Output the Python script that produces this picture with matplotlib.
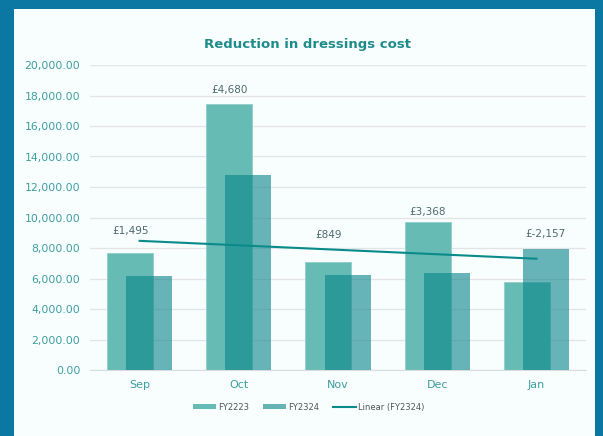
import numpy as np
import matplotlib.pyplot as plt
from matplotlib.patches import Patch
from matplotlib.lines import Line2D

# data
months = ["Sep", "Oct", "Nov", "Dec", "Jan"]
fy2223 = [7650, 17450, 7100, 9700, 5750]
fy2324 = [6155, 12770, 6251, 6332, 7907]
diff_labels = ["£1,495", "£4,680", "£849", "£3,368", "£-2,157"]
yticks = [0, 2000, 4000, 6000, 8000, 10000, 12000, 14000, 16000, 18000, 20000]

# label gap above the taller bar, in points
label_gap = [15.8, 10, 19.4, 7.6, 10.8]

border = "#0b77a3"
teal_text = "#3d9ea0"
c2223 = "#66bbb4"
c2324 = "#07848a"

fig = plt.figure(figsize=(6.03, 4.36), dpi=100)
fig.patch.set_facecolor(border)

# white panel as a background axes
bg = fig.add_axes([14/603, 0, (595-14)/603, 1 - 9/436])
bg.set_facecolor("#f8fdfd")
bg.set_xticks([])
bg.set_yticks([])
for s in bg.spines.values():
    s.set_visible(False)
bg.set_zorder(0)

ax = fig.add_axes([90/603, 66/436, 496/603, 305/436])
ax.set_facecolor("none")
ax.set_zorder(1)

x = np.arange(len(months))
w = 0.464
off = 0.096
ax.bar(x - off, fy2223, width=w, color=c2223, edgecolor="#8fd0ca", linewidth=0.6, zorder=2)
ax.bar(x + off, fy2324, width=w, color=c2324, alpha=0.6, edgecolor="none", zorder=3)

# linear trendline of FY2324
coef = np.polyfit(x, fy2324, 1)
ax.plot([x[0], x[-1]], np.polyval(coef, [x[0], x[-1]]), color="#0a8a8a", lw=1.5, zorder=4)

# difference labels above the taller bar
for i in range(len(months)):
    if fy2223[i] >= fy2324[i]:
        xi, top = x[i] - off, fy2223[i]
    else:
        xi, top = x[i] + off, fy2324[i]
    ax.annotate(diff_labels[i], (xi, top), xytext=(0, label_gap[i]), textcoords="offset points",
                ha="center", va="center", fontsize=7.5, color="#4f6a70")

ax.set_xlim(-0.5, len(months) - 0.5)
ax.set_ylim(0, 20000)
ax.set_yticks(yticks)
ax.set_yticklabels([f"{v:,.2f}" for v in yticks])
ax.set_xticks(x)
ax.set_xticklabels(months)
ax.tick_params(axis="y", length=0, pad=7, labelsize=7.8, labelcolor=teal_text)
ax.tick_params(axis="x", length=0, pad=7, labelsize=8, labelcolor=teal_text)
ax.grid(axis="y", color="#e2e4e6", lw=0.9, zorder=0)
ax.set_axisbelow(True)
for s in ["top", "right", "left"]:
    ax.spines[s].set_visible(False)
ax.spines["bottom"].set_color("#d9dcde")

fig.text(308/603, 1 - 44/436, "Reduction in dressings cost", ha="center", va="center",
         fontsize=9.5, fontweight="bold", color="#1f8c8c", zorder=2)

handles = [Patch(facecolor=c2223, edgecolor="none"),
           Patch(facecolor="#66b3b7", edgecolor="none"),
           Line2D([0], [0], color="#0a8a8a", lw=1.5)]
leg = fig.legend(handles, ["FY2223", "FY2324", "Linear (FY2324)"], loc="center",
                 bbox_to_anchor=(309/603, 1 - 407/436), ncol=3, frameon=False,
                 fontsize=6, labelcolor="#555555", handlelength=2.7, handleheight=0.6,
                 handletextpad=0.3, columnspacing=1.7)
leg.set_zorder(2)

fig.savefig("out.png", dpi=100)
